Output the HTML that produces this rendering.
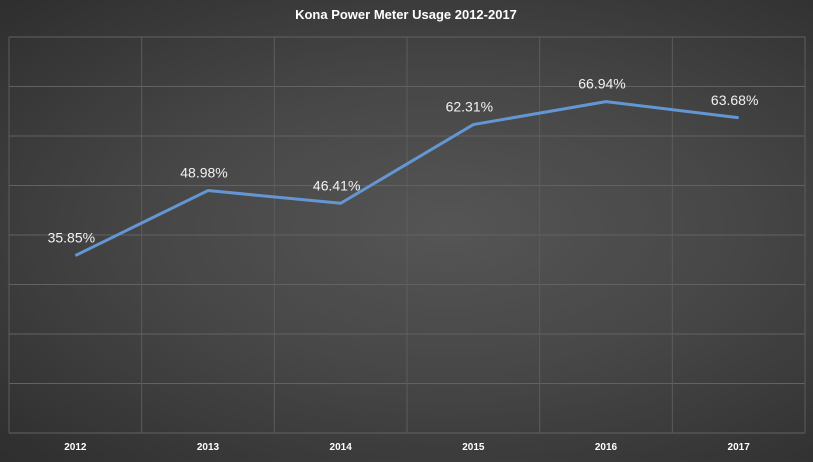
<!DOCTYPE html>
<html><head><meta charset="utf-8"><style>
html,body{margin:0;padding:0;}
body{width:813px;height:457px;overflow:hidden;background:radial-gradient(ellipse at 55% 50%,#555 0%,#474747 45%,#2e2e2e 100%);font-family:"Liberation Sans",sans-serif;}
</style></head><body>
<svg width="813" height="457" id="c">
<text x="406" y="19" text-anchor="middle" fill="#fff" font-weight="bold" font-size="13">Kona Power Meter Usage 2012-2017</text>
</svg>
<script>
const categories=["2012","2013","2014","2015","2016","2017"];
const values=[35.85,48.98,46.41,62.31,66.94,63.68];
const valueLabels=["35.85%","48.98%","46.41%","62.31%","66.94%","63.68%"];
const yTicks=[0,10,20,30,40,50,60,70,80];
const svg=document.getElementById('c');
const NS="http://www.w3.org/2000/svg";
const L=9,R=805,T=37,B=433,ymax=80;
const bw=(R-L)/categories.length;
const x=i=>L+bw*(i+0.5);
const y=v=>B-(v/ymax)*(B-T);
function mk(t,a){const e=document.createElementNS(NS,t);for(const k in a)e.setAttribute(k,a[k]);svg.appendChild(e);return e;}
yTicks.forEach(v=>{const e=mk('line',{x1:L,x2:R,y1:y(v),y2:y(v),stroke:'#626262','stroke-width':1});

});
for(let i=0;i<=categories.length;i++){const e=mk('line',{x1:L+bw*i,x2:L+bw*i,y1:T,y2:B,stroke:'#5c5c5c','stroke-width':1});

}
const p=mk('polyline',{points:values.map((v,i)=>x(i)+','+y(v)).join(' '),fill:'none',stroke:'#6496d4','stroke-width':3,'stroke-linejoin':'round'});


values.forEach((v,i)=>{const t=mk('text',{x:x(i)-4,y:y(v)-13,'text-anchor':'middle',fill:'#f2f2f2','font-size':14});t.textContent=valueLabels[i];

});
categories.forEach((c,i)=>{const t=mk('text',{x:x(i),y:450,'text-anchor':'middle',fill:'#fff','font-size':10,'font-weight':'bold'});t.textContent=c;

});
</script>
</body></html>
